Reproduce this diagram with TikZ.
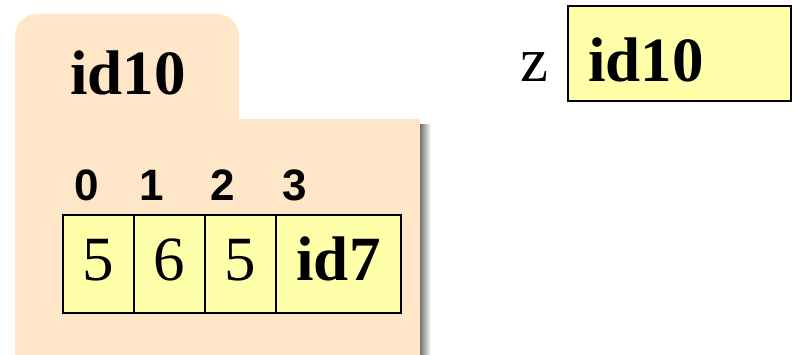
\documentclass[tikz,border=0pt]{standalone}
\usepackage{fontspec}
\setmainfont{Liberation Serif}
\newfontfamily\idxfont{Liberation Sans}
\definecolor{beige}{HTML}{FFE6C8}
\definecolor{cellyellow}{HTML}{FFFFAA}
\tikzset{
  big/.style={font=\fontsize{63}{63}\selectfont},
  bigbold/.style={font=\fontsize{63}{63}\selectfont\bfseries},
  idx/.style={font=\fontsize{44}{44}\selectfont\idxfont\bfseries, anchor=base, inner sep=0pt},
  cell/.style={draw=black, line width=1.5pt, fill=cellyellow, minimum height=98pt, inner sep=0pt, text height=40pt, text depth=8pt},
}
\begin{document}
\begin{tikzpicture}[x=1pt,y=-1pt]
\useasboundingbox (0,0) rectangle (792,354);
\clip (0,0) rectangle (792,354);
% memory block
\shade[left color=black!55, right color=white] (420,124) rectangle (431,360);
\fill[beige, rounded corners=22pt] (15,14) rectangle (239,220);
\fill[beige] (15,119) rectangle (420,360);
\node[bigbold, anchor=base west, inner sep=0pt] (blk) at (70,94) {id10};
% indices
\node[idx] (i0) at (87,200) {0};
\node[idx] (i1) at (152,200) {1};
\node[idx] (i2) at (223,200) {2};
\node[idx] (i3) at (295,200) {3};
% cells
\node[cell, big, minimum width=71pt] (c0) at (98.5,264) {5};
\node[cell, big, minimum width=71pt] (c1) at (169.5,264) {6};
\node[cell, big, minimum width=71pt] (c2) at (240.5,264) {5};
\node[cell, bigbold, minimum width=125pt] (c3) at (338.5,264) {id7};
% variable z
\node[draw=black, line width=2pt, fill=cellyellow, minimum width=223pt, minimum height=95pt, inner sep=0pt] (zbox) at (679.5,53.5) {};
\node[bigbold, anchor=base west, inner sep=0pt] (zval) at (588,81) {id10};
\node[big, anchor=base east, inner sep=0pt] (zname) at (549,81) {z};
\end{tikzpicture}
\end{document}
